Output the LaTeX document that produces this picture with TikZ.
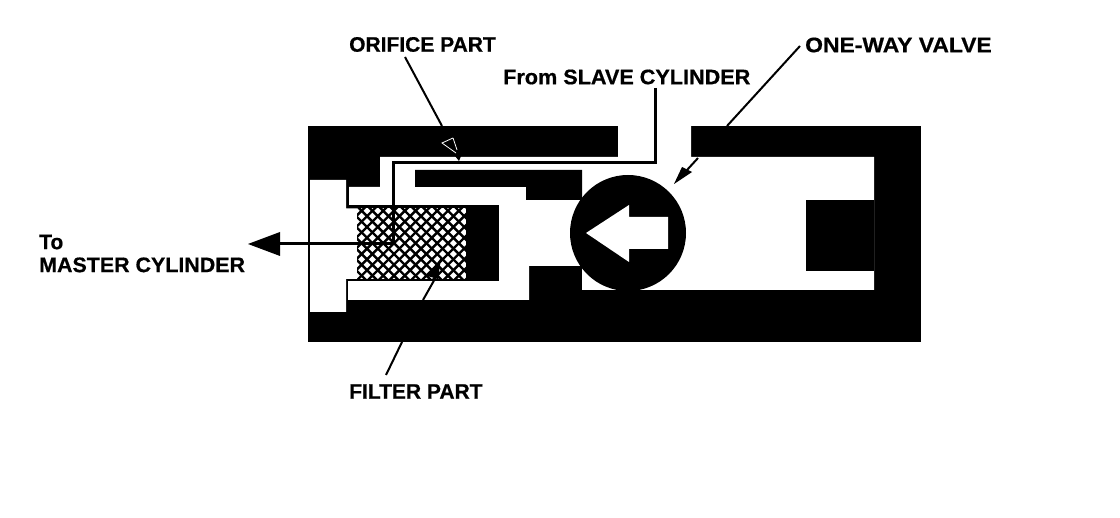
\documentclass[tikz,border=0pt]{standalone}
\usepackage{fontspec}
\setmainfont{Liberation Sans}
\newfontfamily\labfont[FakeBold=0.6]{Liberation Sans Bold}
\usetikzlibrary{patterns}
\tikzset{
  px/.style={x=1pt,y=-1pt},
  lab/.style={inner sep=0pt,anchor=west,font=\labfont\fontsize{21}{23}\selectfont,text=black,align=left},
  solidb/.style={fill=black,draw=none},
  voidw/.style={fill=white,draw=none},
  leader/.style={draw=black,line width=2pt},
  pipe/.style={draw=black,line width=3pt},
  hatch/.style={draw=black,line width=2.4pt}
}
\begin{document}
\begin{tikzpicture}[px]
\useasboundingbox (0,0) rectangle (1120,518);
\fill[white] (0,0) rectangle (1120,518);
% body
\path[solidb] (308,126) rectangle (921,342);
% passages
\path[voidw] (618,120) -- (691,120) -- (691,157) -- (874,157) -- (874,290) -- (582,290) -- (582,266) -- (529,266) -- (529,300)
  -- (348,300) -- (348,281) -- (499,281) -- (499,205) -- (349,205) -- (349,187) -- (380,187) -- (380,157) -- (618,157) -- cycle;
% inner solids
\path[solidb] (415,170) -- (582,170) -- (582,200) -- (526,200) -- (526,187) -- (415,187) -- cycle;
\path[solidb] (806,200) rectangle (874,271);
% filter
\fill[black] (346,206) rectangle (499,281);
% left white chamber, open to the filter
\path[voidw] (310,180) -- (346,180) -- (346,208.5) -- (357,208.5) -- (357,279) -- (346,279) -- (346,312) -- (310,312) -- cycle;
\begin{scope}
\clip (357,208.5) rectangle (466,279);
\fill[white] (357,208.5) rectangle (466,279);
\foreach \k in {-12,...,30}{
  \draw[hatch] ({340+10.8*\k},200) -- ({340+10.8*\k+90},290);
  \draw[hatch] ({340+10.8*\k},200) -- ({340+10.8*\k-90},290);
}
\end{scope}
% valve
\node[circle,fill=black,draw=none,minimum size=116pt,inner sep=0pt] (valve) at (628,233) {};
\path[voidw] (586,233) -- (629,205) -- (629,217) -- (668,217) -- (668,249) -- (629,249) -- (629,262) -- cycle;
% labels
\node[lab] (orifice) at (349,44.5) {ORIFICE PART};
\node[lab] (slave) at (503,77) {\scalebox{1.03}[1]{From SLAVE CYLINDER}};
\node[lab] (oneway) at (805,45) {\scalebox{1.09}[1]{ONE-WAY VALVE}};
\node[lab] (master) at (39,253.5) {To\\\scalebox{1.02}[1]{MASTER CYLINDER}};
\node[lab] (filter) at (349,391.5) {FILTER PART};
% named ends
\coordinate (pipeA) at (655,163);
\coordinate (pipeB) at (393,163);
\coordinate (pipeC) at (393,244);
\coordinate (slaveEnd) at (655,88);
\coordinate (masterTip) at (248,244);
% pipe from slave cylinder to master cylinder
\draw[pipe,line join=miter] (slaveEnd) -- (pipeA) -- (pipeB) -- (pipeC) -- (270,244);
\fill[black] (masterTip) -- (280,232) -- (280,256) -- cycle;
% orifice leader
\coordinate (orA) at (405,57);
\coordinate (orB) at (442,126);
\draw[leader] (orA) -- (orB);
\draw[white,line width=0.8pt] (453,138) -- (442,143) -- (456,153);
\draw[white,line width=0.8pt] (453,138) -- (457,150);
\fill[black] (455,156) -- (461,156) -- (459,161) -- cycle;
% valve leader
\coordinate (vaA) at (800,46);
\coordinate (vaB) at (727,126);
\coordinate (vaC) at (698,158);
\coordinate (vaTip) at (674,184);
\draw[leader] (vaA) -- (vaB);
\draw[leader] (vaC) -- (687,170);
\fill[black] (vaTip) -- (682,167) -- (692,172) -- cycle;
% filter leader
\coordinate (fiA) at (386,375);
\coordinate (fiB) at (402,342);
\coordinate (fiC) at (423,300);
\coordinate (fiD) at (436,277);
\coordinate (fiTip) at (441,258);
\draw[leader] (fiA) -- (fiB);
\draw[leader] (fiC) -- (fiD);
\fill[black] (fiTip) -- (427,276) -- (438,279) -- cycle;
\end{tikzpicture}
\end{document}
